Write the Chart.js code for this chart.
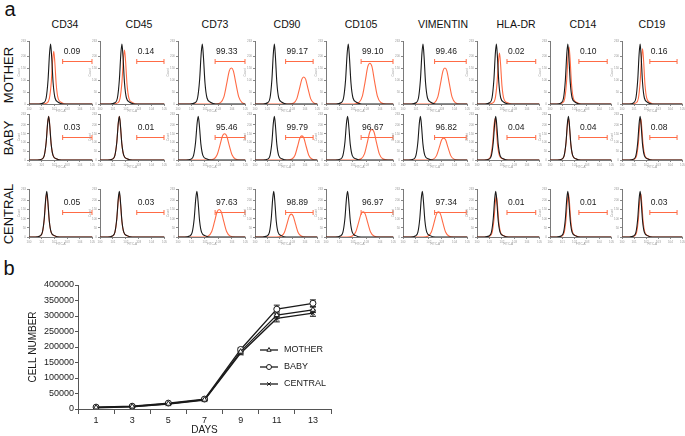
<!DOCTYPE html>
<html>
<head>
<meta charset="utf-8">
<script src="https://cdn.jsdelivr.net/npm/chart.js@4.4.1/dist/chart.umd.min.js"></script>
<style>
  body { margin: 0; background: #fff; }
  #fig { position: relative; width: 685px; height: 436px; overflow: hidden; font-family: 'Liberation Sans', Arial, sans-serif; color: #111; }
  #fig canvas { position: absolute; }
  .lbl { position: absolute; white-space: nowrap; line-height: 1; }
  .title { font-size: 10.5px; transform: translate(-50%, -50%); }
  .row { font-size: 13px; transform: translate(-50%, -50%) rotate(-90deg); }
  .panel { font-size: 20px; transform: translate(-50%, -50%); }
</style>
</head>
<body>
<div id="fig"></div>
<script>
// ---- panel a: flow cytometry histograms ----
const markers = ['CD34', 'CD45', 'CD73', 'CD90', 'CD105', 'VIMENTIN', 'HLA-DR', 'CD14', 'CD19'];
const sources = ['MOTHER', 'BABY', 'CENTRAL'];

// percentage of positive cells (text above each gate)
const percents = [
    ['0.09', '0.14', '99.33', '99.17', '99.10', '99.46', '0.02', '0.10', '0.16'],
    ['0.03', '0.01', '95.46', '99.79', '96.67', '96.82', '0.04', '0.04', '0.08'],
    ['0.05', '0.03', '97.63', '98.89', '96.97', '97.34', '0.01', '0.01', '0.03']
];

// peak position (log decades, 0..5) of the isotype control (black)
const isoPeak = [
    [1.70, 1.70, 1.80, 1.55, 1.65, 1.55, 1.55, 1.45, 1.50],
    [1.55, 1.50, 1.50, 1.55, 1.60, 1.35, 1.50, 1.50, 1.50],
    [1.40, 1.50, 1.40, 1.50, 1.60, 1.50, 1.50, 1.45, 1.50]
];
// peak position and relative height of the stained sample (red)
const stainPeak = [
    [1.95, 1.90, 3.95, 3.90, 3.25, 3.25, 1.80, 1.55, 1.70],
    [1.55, 1.50, 3.45, 3.75, 3.40, 3.15, 1.45, 1.50, 1.55],
    [1.40, 1.50, 3.05, 2.90, 2.75, 2.75, 1.55, 1.50, 1.55]
];
const stainHeight = [
    [0.88, 0.90, 0.60, 0.45, 0.68, 0.60, 0.85, 0.95, 0.92],
    [1.00, 1.00, 0.60, 0.55, 0.70, 0.50, 0.95, 0.95, 0.95],
    [0.95, 0.95, 0.60, 0.50, 0.55, 0.55, 0.90, 0.95, 0.95]
];
const broadStain = [false, false, true, true, true, true, false, false, false];

// gate (marker bar) start/end in log decades for each column
const gateStart = [2.65, 2.85, 2.75, 2.45, 2.60, 2.45, 2.40, 2.35, 2.30];
const gateEnd = [5.00, 5.00, 5.00, 4.65, 5.00, 4.90, 4.70, 4.65, 4.55];
const gateLevel = [0.72, 0.525, 0.55];

// histogram outlines: [offset from peak, relative count]
const narrowShape = [[-0.9, 0], [-0.55, 0.02], [-0.35, 0.1], [-0.2, 0.4], [-0.08, 0.85], [0, 1],
    [0.08, 0.8], [0.2, 0.35], [0.35, 0.1], [0.6, 0.03], [1.0, 0]];
const broadShape = [[-1.2, 0], [-0.8, 0.04], [-0.55, 0.2], [-0.35, 0.55], [-0.15, 0.92], [0, 1],
    [0.15, 0.92], [0.35, 0.55], [0.55, 0.2], [0.8, 0.04], [1.2, 0]];

// ---- panel b: growth curve ----
const days = ['1', '3', '5', '7', '9', '11', '13'];
const yTicks = [0, 50000, 100000, 150000, 200000, 250000, 300000, 350000, 400000];
const motherCells = [5000, 8000, 17000, 30000, 185000, 303000, 320000];
const babyCells = [6000, 9000, 19000, 32000, 192000, 322000, 341000];
const centralCells = [4000, 7000, 16000, 29000, 180000, 292000, 309000];
const motherErr = [1500, 1500, 2000, 2500, 5000, 10000, 9000];
const babyErr = [1500, 1500, 2000, 2500, 5000, 13000, 11000];
const centralErr = [1500, 1500, 2000, 2500, 5000, 11000, 10000];

const RED = '#ff6b45';
const INK = '#1a1a1a';
Chart.defaults.font.family = "'Liberation Sans', Arial, sans-serif";
Chart.defaults.color = INK;

const fig = document.getElementById('fig');

function addLabel(text, cls, x, y) {
    const el = document.createElement('div');
    el.className = 'lbl ' + cls;
    el.textContent = text;
    el.style.left = x + 'px';
    el.style.top = y + 'px';
    fig.appendChild(el);
}

function addCanvas(left, top, w, h) {
    const cv = document.createElement('canvas');
    cv.width = w;
    cv.height = h;
    cv.style.left = left + 'px';
    cv.style.top = top + 'px';
    cv.style.width = w + 'px';
    cv.style.height = h + 'px';
    fig.appendChild(cv);
    return cv;
}

// place a histogram outline at a peak position
function placeShape(shape, peak, height) {
    const pts = [{ x: 0, y: 0 }];
    shape.forEach(([dx, h]) => {
        const x = peak + dx;
        if (x > 0 && x < 5) pts.push({ x: x, y: h * height });
    });
    pts.push({ x: 5, y: 0 });
    return pts;
}

// layout of the small plots (page pixels)
const colLeft = [29, 100, 178, 255, 326, 403, 477, 550, 622];
const colRight = [95, 167, 248, 320, 396, 470, 542, 614, 685];
const titleX = [65, 139, 215, 287, 361, 443, 516, 583, 652];
const rowTop = [41, 114, 189];
const rowBottom = [104, 160, 237];
const rowLabelY = [75, 138, 214];

addLabel('a', 'panel', 10, 9);
addLabel('b', 'panel', 9, 268);
markers.forEach((m, c) => addLabel(m, 'title', titleX[c], 24));
sources.forEach((s, r) => addLabel(s, 'row', 8, rowLabelY[r]));

/**
 * Gate bar with end caps and the percentage above it
 */
const gatePlugin = {
    id: 'gate',
    afterDatasetsDraw(chart, args, opts) {
        const ctx = chart.ctx;
        const xs = chart.scales.x, ys = chart.scales.y;
        const x0 = xs.getPixelForValue(opts.start);
        const x1 = Math.min(xs.getPixelForValue(opts.end), chart.chartArea.right - 0.5);
        const y = Math.round(ys.getPixelForValue(opts.level)) + 0.5;
        ctx.save();
        ctx.strokeStyle = RED;
        ctx.lineWidth = 1;
        ctx.beginPath();
        ctx.moveTo(x0, y); ctx.lineTo(x1, y);
        ctx.moveTo(x0, y - 2.5); ctx.lineTo(x0, y + 2.5);
        ctx.moveTo(x1, y - 2.5); ctx.lineTo(x1, y + 2.5);
        ctx.stroke();
        ctx.fillStyle = INK;
        ctx.font = "8.5px 'Liberation Sans', Arial, sans-serif";
        ctx.textAlign = 'left';
        ctx.textBaseline = 'middle';
        ctx.fillText(opts.text, x0 + 1, y - 10);
        ctx.restore();
    }
};

function tinyTicks(color) {
    return { font: { size: 3 }, color: color, padding: 1, maxRotation: 0, autoSkip: false };
}

sources.forEach((src, r) => {
    markers.forEach((m, c) => {
        const plotW = colRight[c] - colLeft[c];
        const plotH = rowBottom[r] - rowTop[r];
        const padL = 12, padT = 3, axisH = 9, padR = 1;
        const cv = addCanvas(colLeft[c] - padL, rowTop[r] - padT, plotW + padL + padR, plotH + padT + axisH);
        const black = placeShape(narrowShape, isoPeak[r][c], 1.0);
        const red = placeShape(broadStain[c] ? broadShape : narrowShape, stainPeak[r][c], stainHeight[r][c]);

        new Chart(cv.getContext('2d'), {
            type: 'line',
            data: {
                datasets: [
                    { data: black, borderColor: INK, borderWidth: 1.1, pointRadius: 0, cubicInterpolationMode: 'monotone', fill: false },
                    { data: red, borderColor: RED, borderWidth: 1.1, pointRadius: 0, cubicInterpolationMode: 'monotone', fill: false }
                ]
            },
            options: {
                responsive: false,
                animation: false,
                events: [],
                layout: { padding: { top: padT, right: padR, left: 0, bottom: 0 } },
                plugins: {
                    legend: { display: false },
                    tooltip: { enabled: false },
                    gate: { start: gateStart[c], end: gateEnd[c], level: gateLevel[r], text: percents[r][c] }
                },
                scales: {
                    x: {
                        type: 'linear', min: 0, max: 5,
                        ticks: Object.assign(tinyTicks('#9a9a9a'), { stepSize: 1, callback: v => '10' + v }),
                        grid: { drawOnChartArea: false, tickLength: 2, color: '#8a8a8a' },
                        border: { color: '#7a7a7a', width: 1 },
                        title: { display: true, text: 'FITC-A', font: { size: 3 }, color: '#9a9a9a', padding: 0 },
                        afterFit: s => { s.height = axisH; }
                    },
                    y: {
                        min: 0, max: 1.05,
                        ticks: Object.assign(tinyTicks('#9a9a9a'), { stepSize: 0.2, callback: v => String(Math.round(v * 250)) }),
                        grid: { drawOnChartArea: false, tickLength: 2, color: '#8a8a8a' },
                        border: { color: '#7a7a7a', width: 1 },
                        title: { display: true, text: 'Count', font: { size: 3 }, color: '#9a9a9a', padding: 0 },
                        afterFit: s => { s.width = padL; }
                    }
                }
            },
            plugins: [gatePlugin]
        });
    });
});

/**
 * Error bars drawn behind the markers
 */
const errorBarPlugin = {
    id: 'errorBars',
    beforeDatasetsDraw(chart, args, opts) {
        const ctx = chart.ctx;
        const ys = chart.scales.y;
        ctx.save();
        ctx.strokeStyle = INK;
        ctx.lineWidth = 1;
        chart.data.datasets.forEach((ds, i) => {
            const meta = chart.getDatasetMeta(i);
            meta.data.forEach((pt, j) => {
                const v = ds.data[j], e = opts.errors[i][j];
                const yHi = ys.getPixelForValue(v + e), yLo = ys.getPixelForValue(v - e);
                ctx.beginPath();
                ctx.moveTo(pt.x, yHi); ctx.lineTo(pt.x, yLo);
                ctx.moveTo(pt.x - 3, yHi); ctx.lineTo(pt.x + 3, yHi);
                ctx.moveTo(pt.x - 3, yLo); ctx.lineTo(pt.x + 3, yLo);
                ctx.stroke();
            });
        });
        ctx.restore();
    }
};

/**
 * Legend placed inside the plot, to the right of the curves
 */
const insideLegendPlugin = {
    id: 'insideLegend',
    afterDraw(chart, args, opts) {
        const ctx = chart.ctx;
        ctx.save();
        chart.data.datasets.forEach((ds, i) => {
            const y = opts.top + i * opts.step;
            ctx.strokeStyle = INK;
            ctx.lineWidth = 1.3;
            ctx.beginPath();
            ctx.moveTo(opts.left, y); ctx.lineTo(opts.left + 18, y);
            ctx.stroke();
            ctx.fillStyle = '#fff';
            ctx.lineWidth = 1;
            Chart.helpers.drawPoint(ctx, { pointStyle: ds.pointStyle, radius: 2.5, borderWidth: 1 }, opts.left + 9, y);
            ctx.fillStyle = INK;
            ctx.font = "9px 'Liberation Sans', Arial, sans-serif";
            ctx.textAlign = 'left';
            ctx.textBaseline = 'middle';
            ctx.fillText(ds.label, opts.left + 24, y);
        });
        ctx.restore();
    }
};

const growth = addCanvas(0, 270, 370, 166);
function series(label, data, style) {
    return {
        label: label, data: data, pointStyle: style,
        borderColor: INK, borderWidth: 1.3,
        pointRadius: 3, pointBorderWidth: 1, pointBorderColor: INK, pointBackgroundColor: '#fff',
        tension: 0, fill: false
    };
}

new Chart(growth.getContext('2d'), {
    type: 'line',
    data: {
        labels: days,
        datasets: [
            series('MOTHER', motherCells, 'triangle'),
            series('BABY', babyCells, 'circle'),
            series('CENTRAL', centralCells, 'crossRot')
        ]
    },
    options: {
        responsive: false,
        animation: false,
        events: [],
        layout: { padding: { top: 15, right: 39, left: 0, bottom: 0 } },
        plugins: {
            legend: { display: false },
            tooltip: { enabled: false },
            errorBars: { errors: [motherErr, babyErr, centralErr] },
            insideLegend: { left: 260, top: 80, step: 17 }
        },
        scales: {
            x: {
                offset: true,
                grid: { offset: true, drawOnChartArea: false, tickLength: 5, color: '#555' },
                border: { color: '#555', width: 1 },
                ticks: { font: { size: 9 }, color: INK, padding: 1 },
                title: { display: true, text: 'DAYS', font: { size: 10 }, color: INK, padding: { top: 0, bottom: 0 } },
                afterFit: s => { s.height = 27; }
            },
            y: {
                min: yTicks[0], max: yTicks[yTicks.length - 1],
                afterBuildTicks: s => { s.ticks = yTicks.map(v => ({ value: v })); },
                grid: { drawOnChartArea: false, tickLength: 3, color: '#555' },
                border: { color: '#555', width: 1 },
                ticks: { font: { size: 9 }, color: INK, padding: 1, callback: v => String(v) },
                title: { display: true, text: 'CELL NUMBER', font: { size: 10 }, color: INK, padding: { top: 27, bottom: 0 } },
                afterFit: s => { s.width = 78; }
            }
        }
    },
    plugins: [errorBarPlugin, insideLegendPlugin]
});
</script>
</body>
</html>
